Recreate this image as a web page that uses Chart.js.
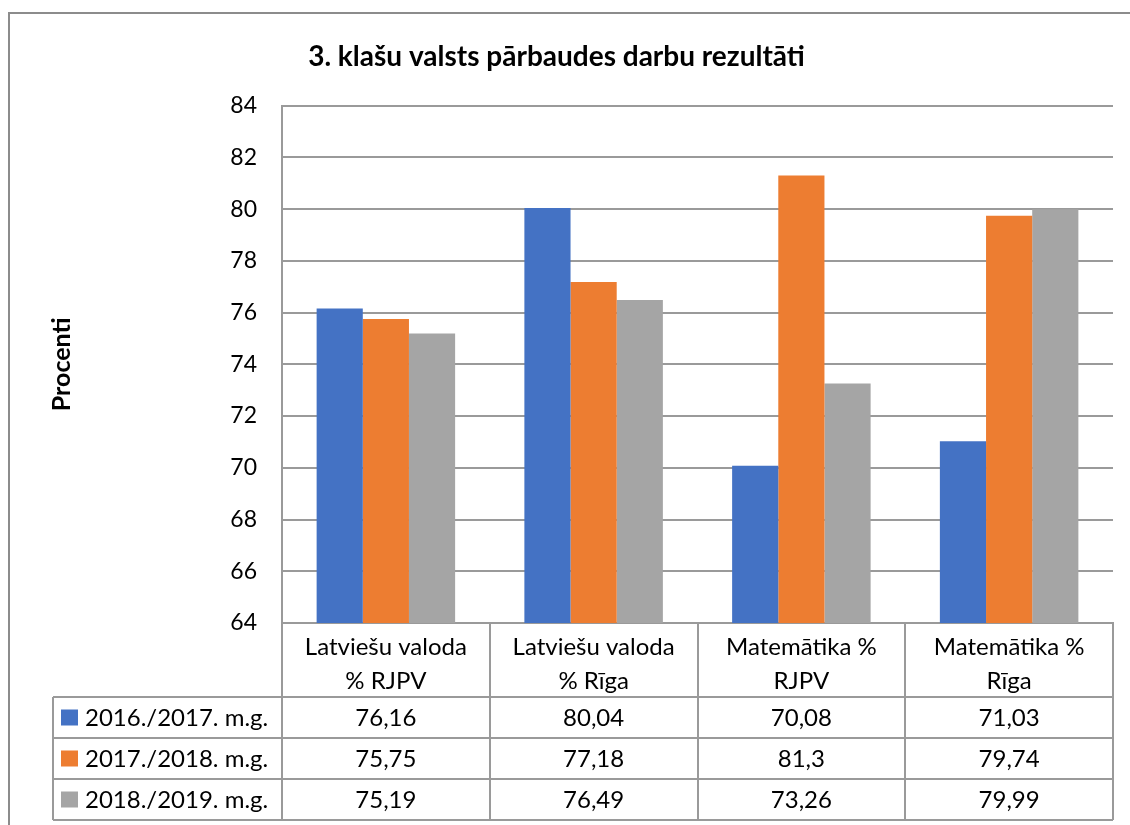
<!DOCTYPE html>
<html>
<head>
<meta charset="utf-8">
<script src="https://cdn.jsdelivr.net/npm/chart.js@4/dist/chart.umd.min.js"></script>
<style>
  html, body { margin: 0; padding: 0; background: #fff; }
  #wrap { width: 1130px; height: 825px; }
</style>
</head>
<body>
<div id="wrap"><canvas id="resultsChart" width="1130" height="825"></canvas></div>
<script>
// Data
const categories = [
  ["Latviešu valoda", "% RJPV"],
  ["Latviešu valoda", "% Rīga"],
  ["Matemātika %", "RJPV"],
  ["Matemātika %", "Rīga"],
];
const seriesNames = ["2016./2017. m.g.", "2017./2018. m.g.", "2018./2019. m.g."];
const values2017 = [76.16, 80.04, 70.08, 71.03];
const values2018 = [75.75, 77.18, 81.3, 79.74];
const values2019 = [75.19, 76.49, 73.26, 79.99];
const yTicks = [64, 66, 68, 70, 72, 74, 76, 78, 80, 82, 84];

const colors = ["#4472C4", "#ED7D31", "#A5A5A5"];
const lineColor = "#9a9a9a";
const fontFamily = "Lato, 'Open Sans', sans-serif";

// outer frame of the chart object
const framePlugin = {
  id: "frame",
  beforeDraw(chart) {
    const ctx = chart.ctx;
    ctx.save();
    ctx.strokeStyle = "#8c8c8c";
    ctx.lineWidth = 2;
    ctx.beginPath();
    ctx.moveTo(9, 840);
    ctx.lineTo(9, 13);
    ctx.lineTo(1140, 13);
    ctx.stroke();
    ctx.restore();
  },
};

// data table under the plot
const tablePlugin = {
  id: "dataTable",
  afterDraw(chart) {
    const ctx = chart.ctx;
    const area = chart.chartArea;
    const x = chart.scales.x;
    const colW = (area.right - area.left) / categories.length;
    const headerBottom = area.bottom + 74;
    const rowH = 41;
    const tableLeft = 53;
    const rows = chart.data.datasets;
    const tableBottom = headerBottom + rowH * rows.length;

    ctx.save();
    ctx.strokeStyle = lineColor;
    ctx.lineWidth = 2;
    ctx.beginPath();
    for (let i = 0; i <= categories.length; i++) {
      const cx = Math.round(area.left + i * colW);
      ctx.moveTo(cx, area.bottom);
      ctx.lineTo(cx, tableBottom);
    }
    for (let r = 0; r <= rows.length; r++) {
      const y = headerBottom + r * rowH;
      ctx.moveTo(tableLeft, y);
      ctx.lineTo(area.right, y);
    }
    ctx.moveTo(tableLeft, headerBottom);
    ctx.lineTo(tableLeft, tableBottom);
    ctx.stroke();

    ctx.fillStyle = "#000";
    ctx.font = "24px " + fontFamily;
    ctx.textBaseline = "middle";
    ctx.textAlign = "center";
    categories.forEach((lines, i) => {
      const cx = x.getPixelForValue(i);
      lines.forEach((t, k) => ctx.fillText(t, cx, area.bottom + 24 + k * 34));
    });

    rows.forEach((ds, r) => {
      const cy = headerBottom + r * rowH + rowH / 2;
      ctx.fillStyle = ds.backgroundColor;
      ctx.fillRect(61, cy - 8, 17, 16);
      ctx.fillStyle = "#000";
      ctx.textAlign = "left";
      ctx.fillText(ds.label, 85, cy + 1);
      ctx.textAlign = "center";
      ds.data.forEach((v, i) => {
        ctx.fillText(String(v).replace(".", ","), x.getPixelForValue(i), cy + 1);
      });
    });
    ctx.restore();
  },
};

const resultsChart = new Chart(document.getElementById("resultsChart"), {
  type: "bar",
  data: {
    labels: categories,
    datasets: [
      { label: seriesNames[0], data: values2017, backgroundColor: colors[0] },
      { label: seriesNames[1], data: values2018, backgroundColor: colors[1] },
      { label: seriesNames[2], data: values2019, backgroundColor: colors[2] },
    ],
  },
  options: {
    responsive: false,
    animation: false,
    datasets: { bar: { categoryPercentage: 3 / 4.5, barPercentage: 1 } },
    layout: { padding: { left: 0, right: 17, top: 0, bottom: 0 } },
    plugins: {
      legend: { display: false },
      tooltip: { enabled: false },
      title: {
        display: true,
        text: "3. klašu valsts pārbaudes darbu rezultāti",
        color: "#000",
        font: { family: fontFamily, size: 28, weight: "bold", lineHeight: 1.2 },
        padding: { top: 40, bottom: 32 },
      },
    },
    scales: {
      x: {
        ticks: { display: false },
        grid: { display: false, drawTicks: false },
        border: { display: true, color: lineColor, width: 2 },
        afterFit(scale) { scale.height = 202; },
      },
      y: {
        min: 64,
        max: 84,
        afterBuildTicks(scale) { scale.ticks = yTicks.map((v) => ({ value: v })); },
        ticks: { color: "#000", padding: 25, font: { family: fontFamily, size: 23 } },
        grid: { color: lineColor, lineWidth: 2, drawTicks: false },
        border: { display: true, color: lineColor, width: 2 },
        title: {
          display: true,
          text: "Procenti",
          color: "#000",
          font: { family: fontFamily, size: 25, weight: "bold" },
          padding: { top: 47, bottom: 0 },
        },
        afterFit(scale) { scale.width = 282; },
      },
    },
  },
  plugins: [framePlugin, tablePlugin],
});
</script>
</body>
</html>
